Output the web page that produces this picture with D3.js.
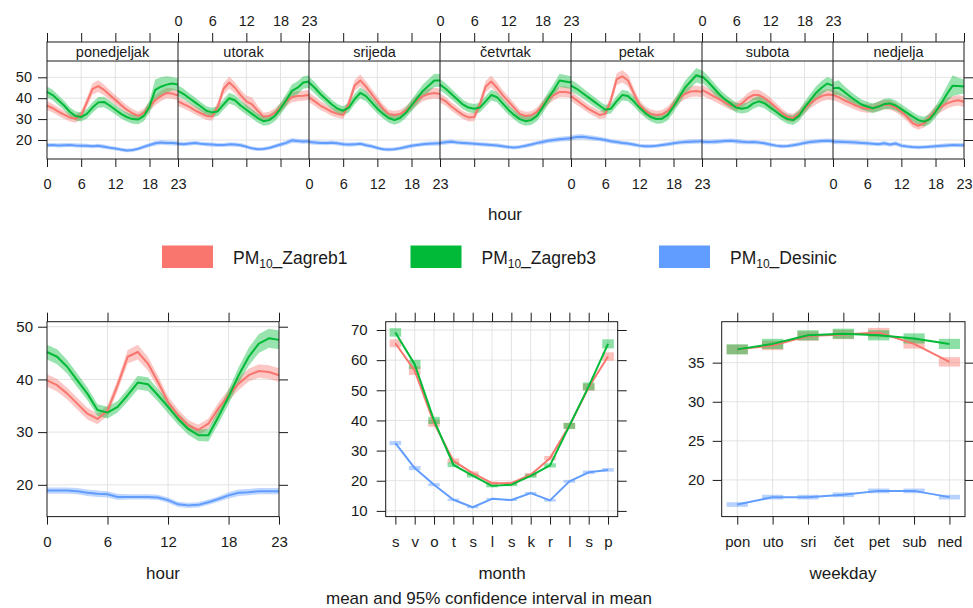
<!DOCTYPE html>
<html>
<head>
<meta charset="utf-8">
<script src="https://cdn.jsdelivr.net/npm/d3@7"></script>
<style>
  body { margin: 0; background: #fff; }
  svg { display: block; font-family: "Liberation Sans", Arial, sans-serif; }
</style>
</head>
<body>
<svg id="chart" width="973" height="608"></svg>
<script>
// ---------------------------------------------------------------
// PM10 time variation: Zagreb1, Zagreb3, Desinic
// ---------------------------------------------------------------
const siteNames = ["Zagreb1", "Zagreb3", "Desinic"];
const siteColours = ["#F8766D", "#00BA38", "#619CFF"];

const dayNames = ["ponedjeljak", "utorak", "srijeda", "četvrtak", "petak", "subota", "nedjelja"];
const hourTicks = [0, 6, 12, 18, 23];
const monthLabels = ["s", "v", "o", "t", "s", "l", "s", "k", "r", "l", "s", "p"];
const weekdayLabels = ["pon", "uto", "sri", "čet", "pet", "sub", "ned"];

const weekYTicks = [20, 30, 40, 50];
const hourYTicks = [20, 30, 40, 50];
const monthYTicks = [10, 20, 30, 40, 50, 60, 70];
const weekdayYTicks = [20, 25, 30, 35];

// hour-of-day means for each weekday (rows: pon .. ned, columns: 0 .. 23 h)
const weekZagreb1 = [
  [36.5, 35.2, 33.6, 32.1, 30.8, 30.2, 31.8, 38.0, 44.5, 45.8, 44.0, 41.5, 39.2, 36.8, 34.5, 32.8, 31.5, 33.0, 36.0, 39.0, 41.0, 42.5, 42.2, 41.3],
  [38.5, 37.2, 35.8, 34.2, 32.8, 31.5, 31.2, 36.0, 44.5, 47.5, 45.0, 41.5, 38.5, 37.0, 34.0, 31.2, 31.5, 33.0, 35.5, 38.5, 40.5, 41.0, 41.2, 41.5],
  [40.5, 38.5, 36.5, 35.0, 33.5, 32.5, 32.0, 37.5, 46.0, 48.5, 45.5, 42.0, 38.5, 35.0, 32.5, 32.0, 32.5, 34.0, 36.5, 39.0, 41.0, 42.0, 42.5, 42.0],
  [40.0, 38.5, 36.0, 34.0, 32.0, 30.8, 31.0, 37.0, 45.5, 48.0, 45.0, 41.5, 38.5, 35.5, 32.5, 31.5, 31.8, 33.5, 36.5, 39.5, 41.5, 43.0, 43.0, 42.5],
  [41.0, 39.0, 37.0, 35.0, 33.5, 32.0, 32.5, 39.0, 49.0, 50.5, 48.5, 42.5, 37.0, 34.0, 32.5, 32.0, 32.3, 34.0, 37.0, 40.0, 42.0, 43.2, 43.4, 43.0],
  [44.0, 42.5, 41.0, 39.5, 38.0, 36.5, 36.0, 37.5, 40.0, 41.5, 41.5, 40.0, 38.0, 35.5, 33.0, 31.0, 30.5, 32.5, 35.0, 37.5, 39.5, 41.0, 41.8, 41.5],
  [41.5, 40.5, 39.0, 37.8, 36.5, 35.5, 35.0, 35.2, 36.2, 37.0, 36.8, 35.5, 33.5, 31.0, 28.0, 26.8, 28.0, 31.0, 34.0, 35.8, 37.5, 38.5, 39.0, 38.3]
];
const weekZagreb3 = [
  [43.0, 41.5, 39.0, 36.5, 33.5, 31.5, 31.0, 32.5, 35.5, 38.0, 38.2, 36.5, 34.5, 32.5, 31.0, 30.0, 29.8, 31.5, 36.0, 44.0, 45.5, 46.5, 47.0, 46.5],
  [43.5, 42.0, 40.0, 38.0, 36.0, 34.0, 33.2, 33.8, 37.0, 40.0, 39.0, 36.5, 34.5, 32.5, 30.5, 29.0, 29.5, 31.5, 35.0, 39.0, 43.5, 45.0, 47.5, 48.0],
  [47.5, 45.0, 42.0, 39.5, 37.0, 35.0, 34.0, 35.5, 39.5, 42.5, 41.0, 38.0, 35.0, 32.5, 30.5, 29.5, 30.5, 33.0, 36.5, 40.0, 43.5, 46.0, 48.5, 48.5],
  [46.5, 44.5, 42.0, 39.5, 37.0, 35.5, 35.0, 35.5, 38.5, 41.5, 40.5, 37.5, 34.5, 32.0, 30.0, 29.0, 29.5, 31.5, 35.5, 40.0, 44.0, 48.5, 48.0, 47.5],
  [46.0, 44.5, 42.5, 40.5, 38.5, 36.5, 34.5, 35.0, 38.5, 41.5, 41.0, 38.5, 35.5, 33.0, 31.0, 30.0, 30.2, 32.0, 36.0, 40.5, 45.0, 48.0, 51.0, 50.0],
  [50.5, 48.0, 45.0, 42.0, 39.5, 37.5, 35.5, 35.0, 35.5, 37.5, 38.5, 37.5, 35.5, 33.5, 31.5, 30.0, 29.5, 31.5, 35.5, 39.0, 42.5, 45.0, 47.0, 46.0],
  [44.8, 45.0, 43.0, 40.8, 38.8, 37.0, 36.0, 35.2, 36.0, 37.2, 37.5, 36.5, 34.8, 33.0, 31.2, 29.5, 28.8, 30.0, 33.5, 37.5, 42.0, 46.0, 45.8, 45.6]
];
const weekDesinic = [
  [17.5, 17.6, 17.4, 17.5, 17.6, 17.4, 17.3, 17.2, 17.0, 17.2, 16.8, 16.3, 15.9, 15.4, 15.0, 15.2, 15.8, 16.7, 17.6, 18.4, 18.8, 18.6, 18.5, 18.3],
  [18.2, 18.0, 18.3, 18.6, 18.2, 18.0, 17.8, 17.6, 17.6, 17.9, 17.8, 17.5, 16.8, 16.0, 15.6, 15.7, 16.2, 17.0, 17.8, 18.6, 19.8, 19.5, 19.3, 19.4],
  [19.0, 18.8, 18.6, 18.5, 18.7, 18.4, 18.0, 17.8, 17.9, 18.2, 17.5, 17.0, 16.2, 15.6, 15.4, 15.6, 16.0, 16.6, 17.2, 17.6, 18.0, 18.2, 18.3, 18.4],
  [18.6, 18.9, 19.2, 18.8, 18.6, 18.4, 18.2, 18.0, 17.8, 17.6, 17.4, 17.0, 16.6, 16.4, 16.7, 17.2, 17.8, 18.5, 19.0, 19.6, 20.0, 20.3, 20.6, 20.8],
  [21.0, 21.4, 21.5, 21.2, 20.8, 20.5, 20.0, 19.4, 19.0, 18.6, 18.3, 17.8, 17.3, 17.0, 17.0, 17.2, 17.6, 18.0, 18.4, 18.8, 19.0, 19.2, 19.3, 19.4],
  [19.2, 19.0, 19.1, 19.3, 19.5, 19.6, 19.4, 19.1, 18.9, 19.0, 18.8, 18.4, 17.8, 17.3, 17.0, 17.1, 17.5, 18.0, 18.6, 19.0, 19.3, 19.5, 19.6, 19.5],
  [19.2, 19.1, 19.0, 18.9, 18.8, 18.6, 18.4, 18.2, 18.0, 18.4, 17.8, 18.3, 17.3, 16.9, 16.6, 16.5, 16.6, 16.8, 17.0, 17.2, 17.4, 17.6, 17.5, 17.5]
];

// 95% confidence half-widths for the weekday/hour means
const weekZagreb1CI = [
  [2.1, 2.0, 2.0, 1.9, 1.9, 1.9, 2.0, 2.3, 2.7, 2.8, 2.6, 2.4, 2.3, 2.2, 2.1, 2.0, 2.0, 2.1, 2.3, 2.4, 2.5, 2.5, 2.5, 2.4],
  [2.2, 2.1, 2.0, 2.0, 1.9, 1.9, 2.0, 2.3, 2.7, 2.9, 2.6, 2.5, 2.7, 3.4, 2.4, 2.0, 2.0, 2.1, 2.2, 2.4, 2.5, 2.5, 2.4, 2.4],
  [2.3, 2.2, 2.1, 2.0, 2.0, 1.9, 2.0, 2.3, 2.6, 2.8, 2.6, 2.4, 2.3, 2.1, 2.0, 2.0, 2.0, 2.1, 2.3, 2.4, 2.5, 2.6, 2.6, 2.5],
  [2.2, 2.1, 2.0, 2.0, 1.9, 1.9, 2.0, 2.3, 2.7, 2.9, 2.6, 2.4, 2.3, 2.2, 2.0, 2.0, 2.0, 2.1, 2.3, 2.4, 2.5, 2.6, 2.6, 2.5],
  [2.3, 2.2, 2.1, 2.0, 2.0, 2.0, 2.1, 2.4, 2.8, 3.0, 2.8, 2.5, 2.3, 2.2, 2.1, 2.0, 2.0, 2.1, 2.3, 2.4, 2.5, 2.6, 2.6, 2.6],
  [2.6, 2.5, 2.4, 2.3, 2.2, 2.1, 2.1, 2.2, 2.4, 2.5, 2.5, 2.4, 2.3, 2.2, 2.1, 2.0, 2.0, 2.1, 2.3, 2.4, 2.5, 2.6, 2.6, 2.6],
  [2.5, 2.4, 2.3, 2.2, 2.1, 2.1, 2.0, 2.1, 2.2, 2.3, 2.3, 2.2, 2.1, 2.0, 1.9, 1.9, 2.0, 2.1, 2.3, 2.4, 2.5, 2.5, 2.5, 2.5]
];
const weekZagreb3CI = [
  [2.6, 2.5, 2.4, 2.3, 2.2, 2.2, 2.2, 2.3, 2.5, 2.6, 2.5, 2.4, 2.3, 2.2, 2.2, 2.2, 2.3, 2.5, 2.9, 5.0, 4.5, 4.0, 3.2, 3.0],
  [2.6, 2.5, 2.4, 2.3, 2.2, 2.2, 2.2, 2.3, 2.5, 2.6, 2.5, 2.4, 2.3, 2.2, 2.2, 2.2, 2.3, 2.5, 2.8, 3.0, 3.1, 3.1, 3.0, 3.0],
  [2.8, 2.7, 2.5, 2.4, 2.3, 2.2, 2.2, 2.3, 2.5, 2.6, 2.5, 2.4, 2.3, 2.2, 2.2, 2.2, 2.3, 2.5, 2.8, 3.0, 3.1, 3.2, 3.2, 3.1],
  [2.7, 2.6, 2.5, 2.4, 2.3, 2.2, 2.2, 2.3, 2.5, 2.6, 2.5, 2.4, 2.3, 2.2, 2.2, 2.2, 2.3, 2.5, 2.8, 3.0, 3.1, 3.2, 3.1, 3.0],
  [2.8, 2.7, 2.5, 2.4, 2.3, 2.2, 2.2, 2.3, 2.5, 2.6, 2.5, 2.4, 2.3, 2.2, 2.2, 2.2, 2.3, 2.5, 2.8, 3.0, 3.2, 3.3, 3.5, 3.3],
  [3.0, 2.9, 2.7, 2.6, 2.5, 2.4, 2.3, 2.3, 2.4, 2.5, 2.5, 2.4, 2.3, 2.2, 2.2, 2.2, 2.3, 2.5, 2.8, 3.0, 3.1, 3.2, 3.2, 3.1],
  [3.0, 3.6, 2.8, 2.6, 2.5, 2.4, 2.3, 2.3, 2.4, 2.5, 2.5, 2.4, 2.3, 2.2, 2.2, 2.2, 2.3, 2.5, 2.8, 3.2, 3.8, 5.0, 4.0, 3.4]
];
const weekDesinicCI = [
  [1.0, 1.0, 1.0, 1.0, 1.0, 1.0, 1.0, 1.0, 1.0, 1.0, 1.0, 0.9, 0.9, 0.9, 0.9, 0.9, 0.9, 1.0, 1.0, 1.1, 1.1, 1.1, 1.1, 1.1],
  [1.1, 1.0, 1.0, 1.0, 1.0, 1.0, 1.0, 1.0, 1.0, 1.0, 1.0, 1.0, 0.9, 0.9, 0.9, 0.9, 0.9, 1.0, 1.0, 1.1, 1.2, 1.1, 1.1, 1.1],
  [1.1, 1.1, 1.0, 1.0, 1.0, 1.0, 1.0, 1.0, 1.0, 1.0, 1.0, 1.0, 0.9, 0.9, 0.9, 0.9, 0.9, 1.0, 1.0, 1.0, 1.0, 1.1, 1.1, 1.1],
  [1.1, 1.1, 1.1, 1.0, 1.0, 1.0, 1.0, 1.0, 1.0, 1.0, 1.0, 1.0, 0.9, 0.9, 0.9, 1.0, 1.0, 1.0, 1.1, 1.1, 1.2, 1.2, 1.2, 1.2],
  [1.2, 1.3, 1.3, 1.2, 1.2, 1.1, 1.1, 1.1, 1.0, 1.0, 1.0, 1.0, 0.9, 0.9, 0.9, 0.9, 1.0, 1.0, 1.0, 1.0, 1.1, 1.1, 1.1, 1.1],
  [1.1, 1.1, 1.1, 1.1, 1.1, 1.1, 1.1, 1.1, 1.0, 1.0, 1.0, 1.0, 1.0, 0.9, 0.9, 0.9, 1.0, 1.0, 1.0, 1.1, 1.1, 1.1, 1.1, 1.1],
  [1.1, 1.1, 1.1, 1.1, 1.1, 1.0, 1.0, 1.0, 1.0, 1.1, 1.0, 1.1, 1.0, 0.9, 0.9, 0.9, 0.9, 0.9, 0.9, 1.0, 1.0, 1.0, 1.0, 1.0]
];

// hour-of-day means (0 .. 23 h)
const hourZagreb1 = [39.8, 38.9, 37.3, 35.4, 33.5, 32.5, 34.1, 38.9, 44.3, 45.2, 43.0, 39.5, 35.7, 33.2, 31.3, 30.4, 31.6, 34.5, 37.0, 39.2, 40.8, 41.6, 41.4, 40.8];
const hourZagreb3 = [45.2, 44.3, 42.4, 39.8, 37.3, 34.2, 33.7, 34.8, 37.0, 39.4, 39.1, 37.0, 34.8, 32.5, 30.6, 29.4, 29.4, 32.9, 36.7, 40.8, 44.3, 46.8, 47.8, 47.5];
const hourDesinic = [18.9, 18.9, 18.9, 18.8, 18.5, 18.3, 18.2, 17.7, 17.7, 17.7, 17.7, 17.6, 17.1, 16.3, 16.1, 16.2, 16.7, 17.3, 18.0, 18.5, 18.6, 18.8, 18.8, 18.8];
const hourZagreb1CI = [1.2, 1.2, 1.1, 1.1, 1.1, 1.0, 1.0, 1.1, 1.3, 1.4, 1.3, 1.2, 1.1, 1.1, 1.0, 1.0, 1.0, 1.1, 1.1, 1.2, 1.2, 1.3, 1.3, 1.3];
const hourZagreb3CI = [1.4, 1.4, 1.3, 1.3, 1.2, 1.1, 1.1, 1.1, 1.2, 1.3, 1.3, 1.2, 1.2, 1.1, 1.1, 1.1, 1.2, 1.3, 1.4, 1.5, 1.7, 1.8, 1.8, 1.8];
const hourDesinicCI = [0.6, 0.6, 0.6, 0.6, 0.6, 0.6, 0.6, 0.6, 0.5, 0.5, 0.5, 0.5, 0.5, 0.5, 0.5, 0.5, 0.5, 0.5, 0.6, 0.6, 0.6, 0.6, 0.6, 0.6];

// monthly means (siječanj .. prosinac)
const monthZagreb1 = [65.6, 56.5, 39.1, 26.6, 22.5, 19.2, 19.2, 22.0, 27.5, 38.2, 51.0, 61.2];
const monthZagreb3 = [69.2, 58.6, 40.0, 25.3, 21.7, 18.3, 18.7, 21.6, 25.1, 38.2, 51.3, 65.4];
const monthDesinic = [32.5, 24.2, 18.7, 13.7, 11.2, 14.0, 13.6, 15.9, 13.5, 19.8, 22.8, 23.6];
const monthZagreb1CI = [1.3, 1.4, 1.2, 0.8, 0.6, 0.5, 0.5, 0.6, 0.7, 1.0, 1.2, 1.4];
const monthZagreb3CI = [1.4, 1.5, 1.2, 0.8, 0.6, 0.5, 0.5, 0.6, 0.7, 1.0, 1.3, 1.5];
const monthDesinicCI = [0.7, 0.7, 0.5, 0.4, 0.3, 0.3, 0.3, 0.4, 0.4, 0.5, 0.6, 0.6];

// weekday means (pon .. ned)
const weekdayZagreb1 = [36.7, 37.2, 38.4, 38.6, 38.85, 37.4, 35.1];
const weekdayZagreb3 = [36.7, 37.4, 38.5, 38.7, 38.5, 38.1, 37.4];
const weekdayDesinic = [16.85, 17.8, 17.8, 18.1, 18.6, 18.6, 17.8];
const weekdayZagreb1CI = [0.6, 0.6, 0.6, 0.6, 0.6, 0.6, 0.6];
const weekdayZagreb3CI = [0.65, 0.65, 0.65, 0.65, 0.65, 0.65, 0.65];
const weekdayDesinicCI = [0.3, 0.3, 0.3, 0.3, 0.3, 0.3, 0.3];

// ---------------------------------------------------------------
const svg = d3.select("#chart");
const ink = "#1a1a1a";
const gridColour = "#e3e3e3";
const bandOpacity = 0.4;

function styleAxis(g, fontSize) {
  g.select(".domain").remove();
  g.selectAll(".tick line").attr("stroke", ink);
  g.selectAll(".tick text")
    .attr("fill", ink)
    .attr("font-size", fontSize)
    .attr("font-family", "'Liberation Sans', Arial, sans-serif");
}

function gridLines(g, x, y, xVals, yVals) {
  const [x0, x1] = x.range();
  const [y0, y1] = y.range();
  g.append("g").selectAll("line").data(xVals).join("line")
    .attr("x1", d => x(d)).attr("x2", d => x(d))
    .attr("y1", y0).attr("y2", y1)
    .attr("stroke", gridColour).attr("stroke-width", 1);
  g.append("g").selectAll("line").data(yVals).join("line")
    .attr("x1", x0).attr("x2", x1)
    .attr("y1", d => y(d)).attr("y2", d => y(d))
    .attr("stroke", gridColour).attr("stroke-width", 1);
}

function bandAndLine(g, x, y, means, cis, colour) {
  const pts = means.map((m, i) => ({ i, m, c: cis[i] }));
  g.append("path").datum(pts)
    .attr("d", d3.area().x(d => x(d.i)).y0(d => y(d.m - d.c)).y1(d => y(d.m + d.c)))
    .attr("fill", colour).attr("fill-opacity", bandOpacity).attr("stroke", "none");
}
function meanLine(g, x, y, means, colour) {
  g.append("path").datum(means)
    .attr("d", d3.line().x((d, i) => x(i)).y(d => y(d)))
    .attr("fill", "none").attr("stroke", colour).attr("stroke-width", 2)
    .attr("stroke-linejoin", "round");
}

// ---------------- weekday x hour strip panels ----------------
const TOP = { left: 47, dayW: 131, stripTop: 42, plotTop: 61, plotBottom: 159 };
const yWeek = d3.scaleLinear().domain([10.9, 57.8]).range([TOP.plotBottom, TOP.plotTop]);
const weekMeans = [weekZagreb1, weekZagreb3, weekDesinic];
const weekCIs = [weekZagreb1CI, weekZagreb3CI, weekDesinicCI];
const gTop = svg.append("g");

dayNames.forEach((day, d) => {
  const x0 = TOP.left + d * TOP.dayW;
  const x = d3.scaleLinear().domain([0, 23]).range([x0, x0 + TOP.dayW]);
  const g = gTop.append("g");
  gridLines(g, x, yWeek, [6, 12, 18], weekYTicks);
  weekMeans.forEach((s, k) => bandAndLine(g, x, yWeek, s[d], weekCIs[k][d], siteColours[k]));
  weekMeans.forEach((s, k) => meanLine(g, x, yWeek, s[d], siteColours[k]));

  // strip
  g.append("text")
    .attr("x", x0 + TOP.dayW / 2).attr("y", 57)
    .attr("text-anchor", "middle").attr("font-size", 14.5).attr("fill", ink)
    .text(day);

  // ticks above the strip (labels on alternate panels)
  const axTop = g.append("g").attr("transform", `translate(0,${TOP.stripTop})`)
    .call(d3.axisTop(x).tickValues(hourTicks).tickSize(9).tickPadding(7)
      .tickFormat(d % 2 === 1 ? d3.format("d") : () => ""));
  styleAxis(axTop, 14.5);
  const axBot = g.append("g").attr("transform", `translate(0,${TOP.plotBottom})`)
    .call(d3.axisBottom(x).tickValues(hourTicks).tickSize(8).tickPadding(12)
      .tickFormat(d % 2 === 0 ? d3.format("d") : () => ""));
  styleAxis(axBot, 14.5);
});

const topRight = TOP.left + 7 * TOP.dayW;
const axWL = gTop.append("g").attr("transform", `translate(${TOP.left},0)`)
  .call(d3.axisLeft(yWeek).tickValues(weekYTicks).tickSize(9).tickPadding(6));
styleAxis(axWL, 14.5);
const axWR = gTop.append("g").attr("transform", `translate(${topRight},0)`)
  .call(d3.axisRight(yWeek).tickValues(weekYTicks).tickSize(9).tickFormat(() => ""));
styleAxis(axWR, 14.5);

// frames
gTop.append("rect").attr("x", TOP.left).attr("y", TOP.stripTop)
  .attr("width", topRight - TOP.left).attr("height", TOP.plotBottom - TOP.stripTop)
  .attr("fill", "none").attr("stroke", ink);
gTop.append("line").attr("x1", TOP.left).attr("x2", topRight)
  .attr("y1", TOP.plotTop).attr("y2", TOP.plotTop).attr("stroke", ink);
gTop.append("g").selectAll("line").data(d3.range(1, 7)).join("line")
  .attr("x1", d => TOP.left + d * TOP.dayW).attr("x2", d => TOP.left + d * TOP.dayW)
  .attr("y1", TOP.stripTop).attr("y2", TOP.plotBottom).attr("stroke", ink);

svg.append("text").attr("x", 505).attr("y", 220).attr("text-anchor", "middle")
  .attr("font-size", 17).attr("fill", ink).text("hour");

// ---------------- legend ----------------
const legendX = [162, 410.5, 659];
siteNames.forEach((name, k) => {
  const lg = svg.append("g").attr("transform", `translate(${legendX[k]},0)`);
  lg.append("rect").attr("x", 0).attr("y", 245.5).attr("width", 51).attr("height", 22.5)
    .attr("fill", siteColours[k]);
  const t = lg.append("text").attr("x", 71).attr("y", 264).attr("font-size", 17.5).attr("fill", ink);
  t.append("tspan").text("PM");
  t.append("tspan").attr("font-size", 12).attr("dy", 4).text("10");
  t.append("tspan").attr("dy", -4).text("_" + name);
});

// ---------------- lower panels ----------------
const LOW = { top: 321.7, bottom: 516.6 };

function lowerFrame(g, x, y, xTickVals, xFormat, yTickVals, yPad) {
  const [x0, x1] = x.range();
  g.append("rect").attr("x", x0).attr("y", LOW.top).attr("width", x1 - x0)
    .attr("height", LOW.bottom - LOW.top).attr("fill", "none").attr("stroke", ink);
  const aL = g.append("g").attr("transform", `translate(${x0},0)`)
    .call(d3.axisLeft(y).tickValues(yTickVals).tickSize(9).tickPadding(yPad));
  styleAxis(aL, 15);
  const aR = g.append("g").attr("transform", `translate(${x1},0)`)
    .call(d3.axisRight(y).tickValues(yTickVals).tickSize(9).tickFormat(() => ""));
  styleAxis(aR, 15);
  const aT = g.append("g").attr("transform", `translate(0,${LOW.top})`)
    .call(d3.axisTop(x).tickValues(xTickVals).tickSize(9).tickFormat(() => ""));
  styleAxis(aT, 15);
  const aB = g.append("g").attr("transform", `translate(0,${LOW.bottom})`)
    .call(d3.axisBottom(x).tickValues(xTickVals).tickSize(8).tickPadding(12).tickFormat(xFormat));
  styleAxis(aB, 15);
}

function axisTitle(text, cx) {
  svg.append("text").attr("x", cx).attr("y", 579).attr("text-anchor", "middle")
    .attr("font-size", 17).attr("fill", ink).text(text);
}

// hour of day
{
  const g = svg.append("g");
  const x = d3.scaleLinear().domain([0, 23]).range([47, 279]);
  const y = d3.scaleLinear().domain([13.97, 50.95]).range([LOW.bottom, LOW.top]);
  gridLines(g, x, y, [6, 12, 18], hourYTicks);
  const means = [hourZagreb1, hourZagreb3, hourDesinic];
  const cis = [hourZagreb1CI, hourZagreb3CI, hourDesinicCI];
  means.forEach((m, k) => bandAndLine(g, x, y, m, cis[k], siteColours[k]));
  means.forEach((m, k) => meanLine(g, x, y, m, siteColours[k]));
  lowerFrame(g, x, y, hourTicks, d3.format("d"), hourYTicks, 5);
  axisTitle("hour", 163);
}

function categoryPanel(x, y, means, cis, labels, yTicks, yPad, boxHalf) {
  const g = svg.append("g");
  const idx = d3.range(1, labels.length + 1);
  gridLines(g, x, y, idx, yTicks);
  means.forEach((m, k) => {
    g.append("g").selectAll("rect").data(m).join("rect")
      .attr("x", (d, i) => x(i + 1 - boxHalf))
      .attr("width", (d, i) => x(i + 1 + boxHalf) - x(i + 1 - boxHalf))
      .attr("y", (d, i) => y(d + cis[k][i]))
      .attr("height", (d, i) => y(d - cis[k][i]) - y(d + cis[k][i]))
      .attr("fill", siteColours[k]).attr("fill-opacity", bandOpacity + 0.05);
  });
  means.forEach((m, k) => {
    g.append("path").datum(m)
      .attr("d", d3.line().x((d, i) => x(i + 1)).y(d => y(d)))
      .attr("fill", "none").attr("stroke", siteColours[k]).attr("stroke-width", 2)
      .attr("stroke-linejoin", "round");
  });
  lowerFrame(g, x, y, idx, i => labels[i - 1], yTicks, yPad);
}

// month
categoryPanel(
  d3.scaleLinear().domain([0.5, 12.5]).range([385.7, 617.7]),
  d3.scaleLinear().domain([8.11, 72.75]).range([LOW.bottom, LOW.top]),
  [monthZagreb1, monthZagreb3, monthDesinic],
  [monthZagreb1CI, monthZagreb3CI, monthDesinicCI],
  monthLabels, monthYTicks, 9, 0.3);
axisTitle("month", 502);

// weekday
categoryPanel(
  d3.scaleLinear().domain([0.56, 7.44]).range([721.7, 965]),
  d3.scaleLinear().domain([15.31, 40.24]).range([LOW.bottom, LOW.top]),
  [weekdayZagreb1, weekdayZagreb3, weekdayDesinic],
  [weekdayZagreb1CI, weekdayZagreb3CI, weekdayDesinicCI],
  weekdayLabels, weekdayYTicks, 8, 0.3);
axisTitle("weekday", 843);

svg.append("text").attr("x", 489).attr("y", 604).attr("text-anchor", "middle")
  .attr("font-size", 17).attr("fill", ink).text("mean and 95% confidence interval in mean");
</script>
</body>
</html>
